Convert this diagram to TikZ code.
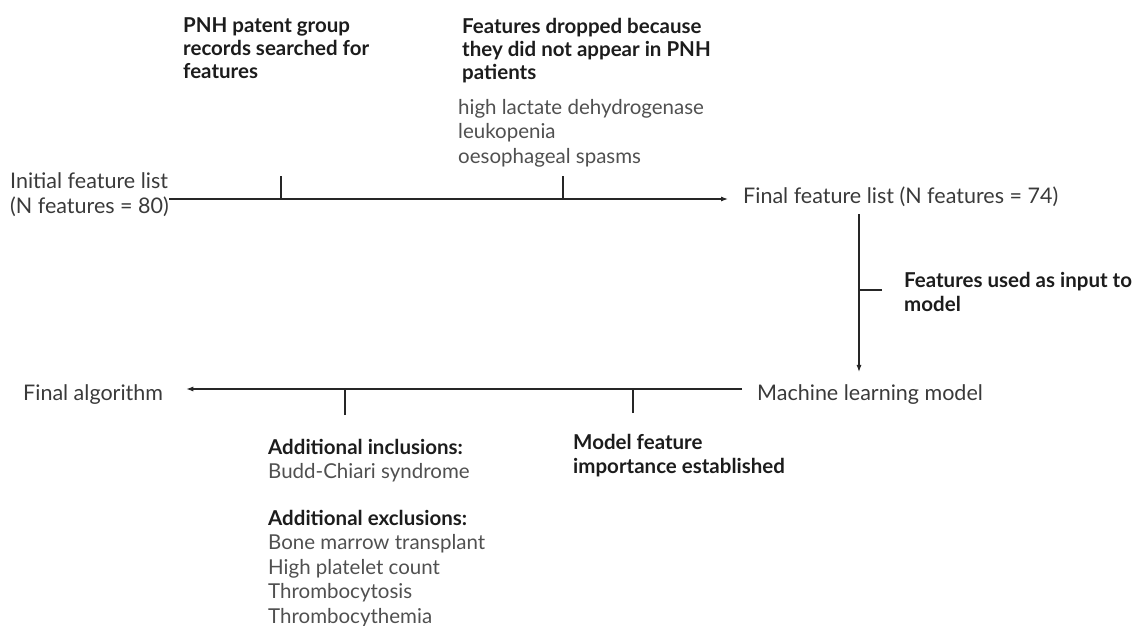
\documentclass[tikz,border=0pt]{standalone}
\usepackage{fontspec}
\setmainfont{Lato}
\usepackage{tikz}
\usetikzlibrary{arrows.meta, positioning}
\usepackage{xcolor}
\definecolor{stagegray}{RGB}{58, 58, 58}
\definecolor{listgray}{RGB}{80, 80, 80}
\definecolor{noteblack}{RGB}{28, 28, 28}

\begin{document}
\begin{tikzpicture}[x=1pt, y=-1pt,
    stage/.style={font=\fontsize{21.5}{25}\selectfont, text=stagegray, inner sep=0pt, align=left, anchor=base west},
    note/.style={font=\fontsize{20.5}{23.5}\selectfont\bfseries, text=noteblack, inner sep=0pt, align=left, anchor=base west},
    items/.style={font=\fontsize{20.5}{24.5}\selectfont, text=listgray, inner sep=0pt, align=left, anchor=base west},
    flow/.style={draw=black!85, line width=1.1pt, -{Latex[length=7pt, width=5pt]}},
    tick/.style={draw=black!85, line width=1.1pt}]
      \useasboundingbox (0,0) rectangle (1141,626);
      % Stages (multi-line nodes sit on their last baseline)
      \node[stage] (init) at (10,213) {Initial feature list\\(N features = 80)};
      \node[stage] (final) at (743,203) {Final feature list (N features = 74)};
      \node[stage] (ml) at (757,400) {Machine learning model};
      \node[stage] (algo) at (23,400) {Final algorithm};
      % Notes
      \node[note] (search) at (183,79) {PNH patent group\\records searched for\\features};
      \node[note] (dropped) at (462,80) {Features dropped because\\they did not appear in PNH\\patients};
      \node[items] (droplist) at (458,163) {high lactate dehydrogenase\\leukopenia\\oesophageal spasms};
      \node[note] (input) at (904,311) {Features used as input to\\model};
      \node[note] (incl) at (268,454) {Additional inclusions:};
      \node[items] (incllist) at (268,478) {Budd-Chiari syndrome};
      \node[note] (excl) at (268,525) {Additional exclusions:};
      \node[items] (excllist) at (268,623) {Bone marrow transplant\\High platelet count\\Thrombocytosis\\Thrombocythemia};
      \node[note] (importance) at (573,473) {Model feature\\importance established};
      % Levels of the arrows
      \coordinate (toplevel) at (0,199);
      \coordinate (bottomlevel) at (0,389);
      \coordinate (downlane) at (859,0);
      % Arrows
      \draw[flow, shorten >=15pt] (init.east |- toplevel) -- (final.west |- toplevel);
      \draw[flow, shorten <=8pt, shorten >=12pt] (final.south -| downlane) -- (ml.north -| downlane);
      \draw[flow, shorten <=15pt, shorten >=23pt] (ml.west |- bottomlevel) -- (algo.east |- bottomlevel);
      % Ticks
      \coordinate (t1) at (281,176);
      \coordinate (t2) at (563,176);
      \coordinate (t3) at (882,290);
      \coordinate (t4) at (345,415);
      \coordinate (t5) at (633,413);
      \draw[tick] (t1) -- (t1 |- toplevel);
      \draw[tick] (t2) -- (t2 |- toplevel);
      \draw[tick] (t3) -- (t3 -| downlane);
      \draw[tick] (t4) -- (t4 |- bottomlevel);
      \draw[tick] (t5) -- (t5 |- bottomlevel);
\end{tikzpicture}
\end{document}
